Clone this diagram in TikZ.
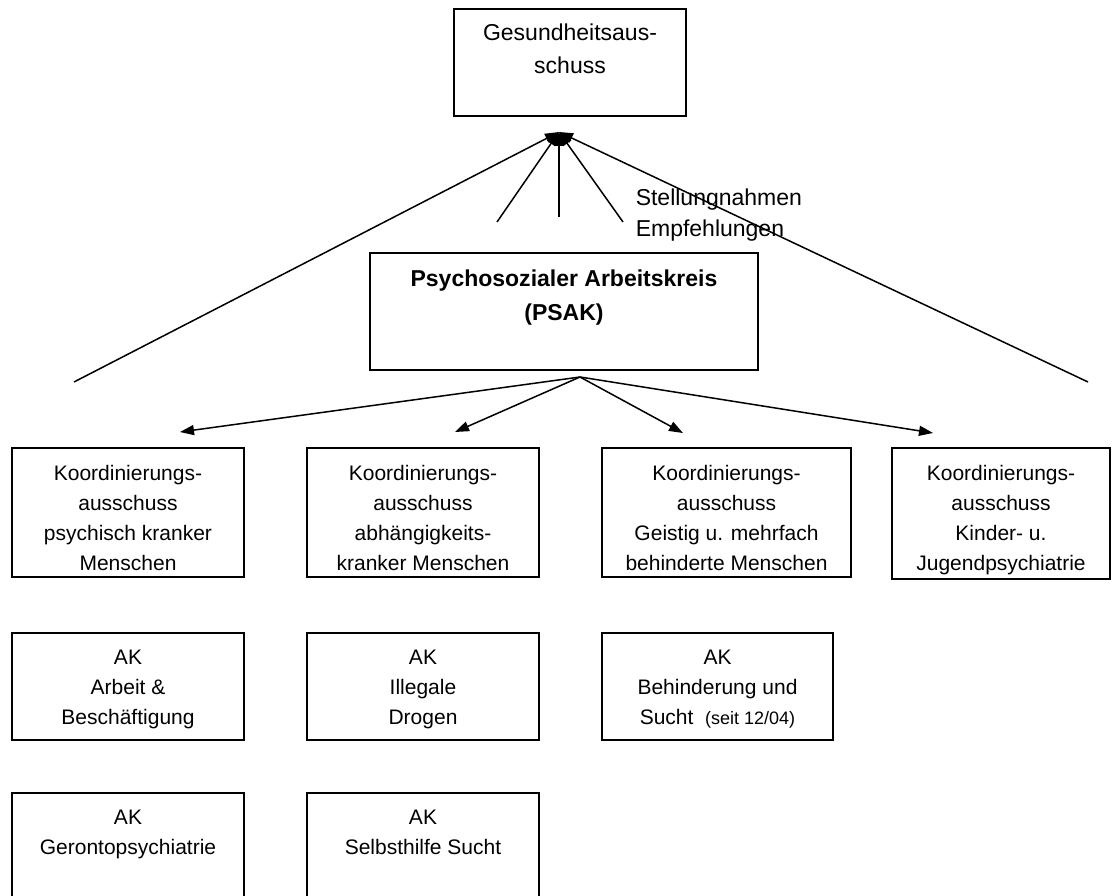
\documentclass[tikz,border=0pt]{standalone}
\usepackage{fontspec}
\setmainfont{Liberation Sans}
\usetikzlibrary{arrows.meta}
\newcommand{\boxfont}{\fontsize{21}{30}\selectfont}
\newcommand{\headfont}{\fontsize{23}{33}\selectfont}
\newcommand{\notefont}{\fontsize{23}{31}\selectfont}
\tikzset{
    box/.style={
           rectangle,
           draw=black, line width=1.3pt,
           inner sep=0pt,
           },
    boxtext/.style={
           anchor=north,
           inner sep=0pt,
           align=center,
           font=\boxfont,
           yshift=-17pt,
           },
}

\begin{document}
\begin{tikzpicture}[x=1pt,y=-1pt,>={Triangle[length=14pt,width=10pt]},line width=1.5pt]
	\useasboundingbox (0,0) rectangle (1113,896);

	% top
	\node[box, minimum width=232pt, minimum height=107pt] (GA) at (570,62.5) {};
	\node[boxtext, font=\headfont, yshift=2pt] (GAt) at (GA.north) {Gesundheitsaus-\\schuss};

	\node[box, minimum width=388pt, minimum height=117pt] (PSAK) at (564,311.5) {};
	\node[boxtext, font=\fontsize{23}{34}\selectfont\bfseries, yshift=0.5pt] (PSAKt) at (PSAK.north)
			{Psychosozialer Arbeitskreis\\(PSAK)};

	\node[anchor=north west, inner sep=0pt, align=left, font=\notefont] (note) at (635,188)
			{Stellungnahmen\\Empfehlungen};

	% Koordinierungsausschuesse
	\node[box, minimum width=232pt, minimum height=129pt] (K1) at (128,512.5) {};
	\node[boxtext] (K1t) at (K1.north) {Koordinierungs-\\ausschuss\\psychisch kranker\\Menschen};
	\node[box, minimum width=232pt, minimum height=129pt] (K2) at (423,512.5) {};
	\node[boxtext] (K2t) at (K2.north) {Koordinierungs-\\ausschuss\\abhängigkeits-\\kranker Menschen};
	\node[box, minimum width=249pt, minimum height=129pt] (K3) at (726.5,512.5) {};
	\node[boxtext] (K3t) at (K3.north) {Koordinierungs-\\ausschuss\\Geistig u. mehrfach\\behinderte Menschen};
	\node[box, minimum width=218pt, minimum height=131pt] (K4) at (1001,513.5) {};
	\node[boxtext] (K4t) at (K4.north) {Koordinierungs-\\ausschuss\\Kinder- u.\\Jugendpsychiatrie};

	% Arbeitskreise
	\node[box, minimum width=232pt, minimum height=107pt] (A1) at (128,686.5) {};
	\node[boxtext] (A1t) at (A1.north) {AK\\Arbeit \&\\Beschäftigung};
	\node[box, minimum width=232pt, minimum height=107pt] (A2) at (423,686.5) {};
	\node[boxtext] (A2t) at (A2.north) {AK\\Illegale\\Drogen};
	\node[box, minimum width=231pt, minimum height=107pt] (A3) at (717.5,686.5) {};
	\node[boxtext] (A3t) at (A3.north) {AK\\Behinderung und\\Sucht~~{\fontsize{18}{30}\selectfont(seit 12/04)}};

	\node[box, minimum width=232pt, minimum height=107pt] (G1) at (128,846.5) {};
	\node[boxtext] (G1t) at (G1.north) {AK\\Gerontopsychiatrie};
	\node[box, minimum width=232pt, minimum height=107pt] (G2) at (423,846.5) {};
	\node[boxtext] (G2t) at (G2.north) {AK\\Selbsthilfe Sucht};

	% connectors
	\coordinate (apex) at (559,132);
	\coordinate (u1) at (74,382);
	\coordinate (u2) at (497,222);
	\coordinate (u3) at (559,217);
	\coordinate (u4) at (623,222);
	\coordinate (u5) at (1088,382);

	\coordinate (fan) at (580,377);
	\coordinate (d1) at (180,432);
	\coordinate (d2) at (455,432);
	\coordinate (d3) at (683,433);
	\coordinate (d4) at (933,433);

	\path[->] (u1) edge (apex);
	\path[->] (u2) edge (apex);
	\path[->] (u3) edge (apex);
	\path[->] (u4) edge (apex);
	\path[->] (u5) edge (apex);

	\path[->] (fan) edge (d1);
	\path[->] (fan) edge (d2);
	\path[->] (fan) edge (d3);
	\path[->] (fan) edge (d4);

\end{tikzpicture}
\end{document}
